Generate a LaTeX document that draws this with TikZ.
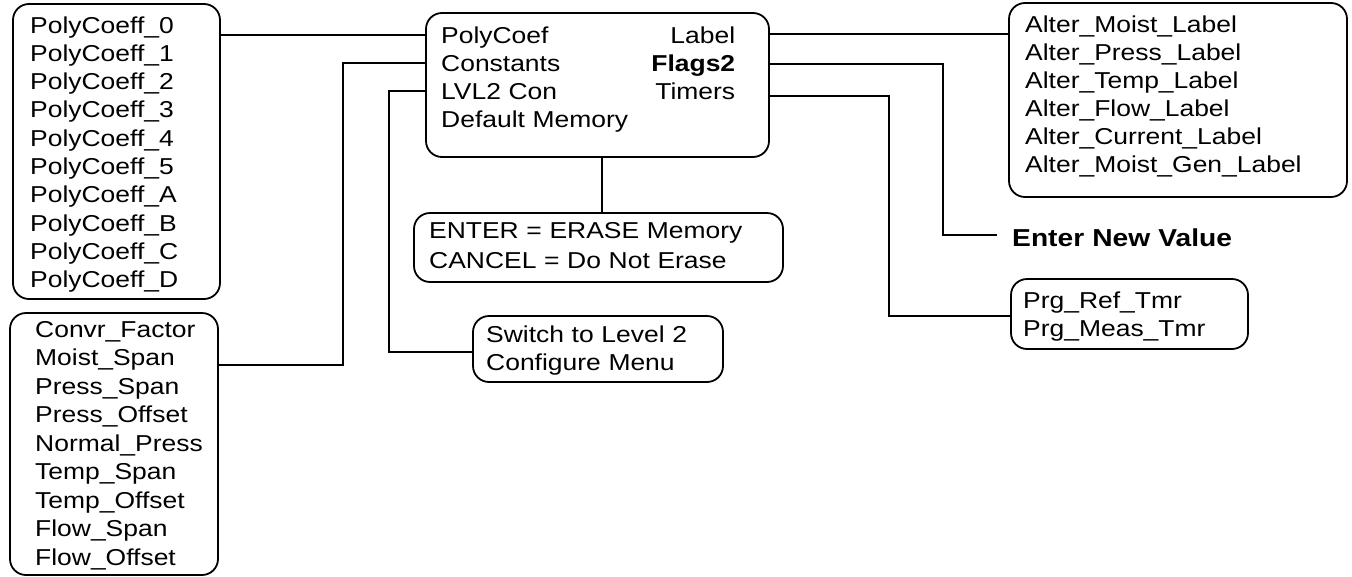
\documentclass[tikz,border=0pt]{standalone}
\usepackage{fontspec}
\setmainfont{Liberation Sans}[FakeStretch=1.15]
\begin{document}
\begin{tikzpicture}[x=1pt,y=-1pt,
  box/.style={draw, line width=1.8pt, rounded corners=16pt, inner sep=0pt},
  wire/.style={draw, line width=1.8pt},
  txt/.style={anchor=base west, inner sep=0pt, align=left, text width=#1,
    font=\fontsize{23}{28.3}\selectfont},
  txt/.default=340pt
]
\useasboundingbox (0,0) rectangle (1352,576);

% frames
\node[box, minimum width=207pt, minimum height=295pt] (A) at (116.5,151.5) {};
\node[box, minimum width=208pt, minimum height=262pt] (B) at (114,444) {};
\node[box, minimum width=343pt, minimum height=144pt] (C) at (597.5,85) {};
\node[box, minimum width=250pt, minimum height=66pt]  (D) at (598,349) {};
\node[box, minimum width=369pt, minimum height=69pt]  (E) at (598.5,247.5) {};
\node[box, minimum width=338pt, minimum height=194pt] (F) at (1178,100) {};
\node[box, minimum width=237pt, minimum height=70pt]  (G) at (1129.5,314) {};

% texts
\node[txt] (Atxt) at (30,33) {PolyCoeff\_0\\PolyCoeff\_1\\PolyCoeff\_2\\PolyCoeff\_3\\PolyCoeff\_4\\PolyCoeff\_5\\PolyCoeff\_A\\PolyCoeff\_B\\PolyCoeff\_C\\PolyCoeff\_D};
\node[txt, font=\fontsize{23}{28.5}\selectfont] (Btxt) at (35,337) {Convr\_Factor\\Moist\_Span\\Press\_Span\\Press\_Offset\\Normal\_Press\\Temp\_Span\\Temp\_Offset\\Flow\_Span\\Flow\_Offset};
\node[txt=294pt] (Ctxt) at (441,43) {PolyCoef\hfill Label\hspace*{1pt}\\Constants\hfill\textbf{Flags2}\\LVL2 Con\hfill Timers\hspace*{1pt}\\Default Memory};
\node[txt, font=\fontsize{23}{28}\selectfont] (Dtxt) at (486,342) {Switch to Level 2\\Configure Menu};
\node[txt, font=\fontsize{23}{30}\selectfont] (Etxt) at (429,238) {ENTER = ERASE Memory\\CANCEL = Do Not Erase};
\node[txt, font=\fontsize{23}{28}\selectfont] (Ftxt) at (1025,32) {Alter\_Moist\_Label\\Alter\_Press\_Label\\Alter\_Temp\_Label\\Alter\_Flow\_Label\\Alter\_Current\_Label\\Alter\_Moist\_Gen\_Label};
\node[txt, font=\fontsize{23}{28}\selectfont] (Gtxt) at (1023,308) {Prg\_Ref\_Tmr\\Prg\_Meas\_Tmr};
\node[txt, font=\fontsize{24.5}{28}\selectfont\bfseries] (env) at (1012,246) {Enter New Value};
\coordinate (envtip) at (997,235);

% connectors
\draw[wire] (A.east |- 0,35) -- (C.west |- 0,35);
\draw[wire] (C.west |- 0,63) -| (343,365) -- (B.east |- 0,365);
\draw[wire] (C.west |- 0,91) -| (389,352) -- (D.west |- 0,352);
\draw[wire] (C.south -| 602,0) -- (E.north -| 602,0);
\draw[wire] (C.east |- 0,34) -- (F.west |- 0,34);
\draw[wire] (C.east |- 0,64) -| (943,235) -- (envtip);
\draw[wire] (C.east |- 0,96) -| (889,316) -- (G.west |- 0,316);
\end{tikzpicture}
\end{document}
